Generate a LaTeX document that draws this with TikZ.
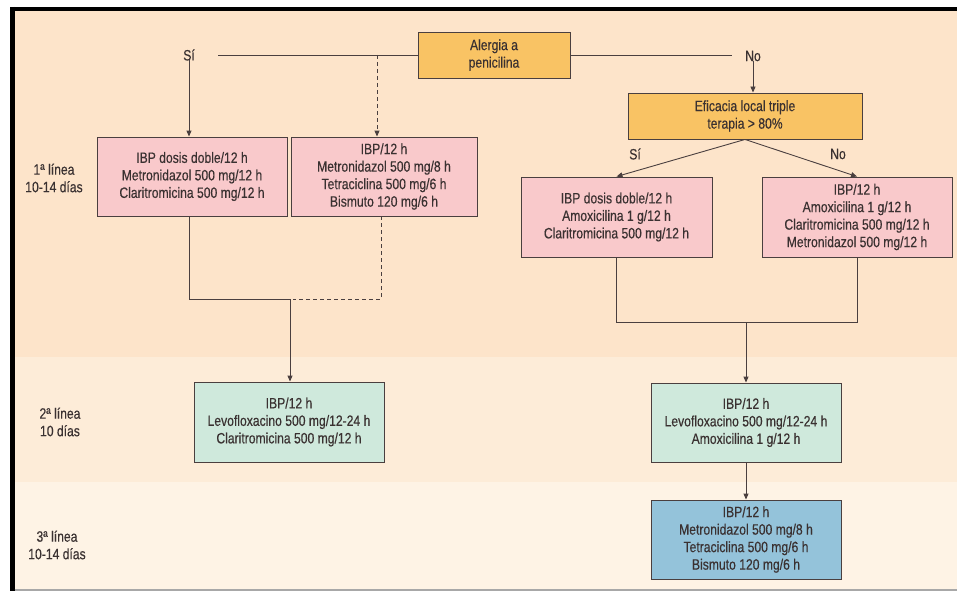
\documentclass[tikz,border=0pt]{standalone}
\usepackage{fontspec}
\setmainfont{Liberation Sans}[FakeStretch=0.81, FakeBold=0.35]
\usetikzlibrary{arrows.meta}
\definecolor{bandA}{HTML}{FDE4CA}
\definecolor{bandB}{HTML}{FDECD8}
\definecolor{bandC}{HTML}{FEF3E5}
\definecolor{orangebox}{HTML}{F9C364}
\definecolor{pinkbox}{HTML}{F9C9CB}
\definecolor{greenbox}{HTML}{CFE9DC}
\definecolor{bluebox}{HTML}{94C3DA}
\definecolor{edgecol}{HTML}{4A3F3F}
\definecolor{txtcol}{HTML}{3A3131}
\definecolor{framegray}{HTML}{A8A8A8}
\tikzset{
  boxbase/.style={draw=edgecol, line width=0.9pt, align=center, inner sep=2pt,
    text=txtcol, font=\fontsize{15}{17.5}\selectfont},
  obox/.style={boxbase, fill=orangebox},
  pbox/.style={boxbase, fill=pinkbox, minimum width=190pt, minimum height=79pt},
  gbox/.style={boxbase, fill=greenbox, minimum width=190pt, minimum height=79pt},
  bbox/.style={boxbase, fill=bluebox, minimum width=190pt, minimum height=79pt},
  lbl/.style={text=txtcol, align=center, inner sep=1pt, font=\fontsize{15}{17.5}\selectfont},
  conn/.style={draw=edgecol, line width=0.9pt},
  arr/.style={conn, -{Triangle[width=5pt,length=6pt]}},
  dashconn/.style={conn, dash pattern=on 4pt off 3pt}
}
\begin{document}
\begin{tikzpicture}[x=1pt, y=-1pt]
\useasboundingbox (0,0) rectangle (957,591);
% background
\fill[white] (0,0) rectangle (957,591);
\fill[bandA] (12,9) rectangle (957,357);
\fill[bandB] (12,357) rectangle (957,482);
\fill[bandC] (12,482) rectangle (957,589);
\draw[black, line width=4pt] (10,9) -- (957,9);
\draw[black, line width=4.5pt] (12.25,7) -- (12.25,591);
\draw[framegray, line width=2.5pt] (14.5,589.75) -- (957,589.75);

% nodes
\node[obox, minimum width=152pt, minimum height=46pt] (aler) at (494,55) {Alergia a\\penicilina};
\node[lbl] (si1) at (189,55) {Sí};
\node[lbl] (no1) at (753,56) {No};
\coordinate (siend) at (218,55);
\coordinate (noend) at (732,55);
\coordinate (dtop) at (377,55);

\node[pbox] (b1) at (192,176.5) {IBP dosis doble/12 h\\Metronidazol 500 mg/12 h\\Claritromicina 500 mg/12 h};
\node[pbox, minimum width=186pt] (b2) at (384,176.5) {IBP/12 h\\Metronidazol 500 mg/8 h\\Tetraciclina 500 mg/6 h\\Bismuto 120 mg/6 h};

\node[obox, minimum width=234pt, minimum height=46pt] (efi) at (745,116) {Eficacia local triple\\terapia > 80\%};
\node[lbl] (si2) at (635,154) {Sí};
\node[lbl] (no2) at (838,154) {No};

\node[pbox, minimum width=191pt, minimum height=80pt] (b3) at (616.5,217) {IBP dosis doble/12 h\\Amoxicilina 1 g/12 h\\Claritromicina 500 mg/12 h};
\node[pbox, minimum height=80pt] (b4) at (857,217) {IBP/12 h\\Amoxicilina 1 g/12 h\\Claritromicina 500 mg/12 h\\Metronidazol 500 mg/12 h};

\node[gbox, minimum height=80pt] (b7) at (289,422) {IBP/12 h\\Levofloxacino 500 mg/12-24 h\\Claritromicina 500 mg/12 h};
\node[gbox] (b5) at (746,422.5) {IBP/12 h\\Levofloxacino 500 mg/12-24 h\\Amoxicilina 1 g/12 h};
\node[bbox] (b6) at (746,539.5) {IBP/12 h\\Metronidazol 500 mg/8 h\\Tetraciclina 500 mg/6 h\\Bismuto 120 mg/6 h};

\coordinate (jL) at (290,299);
\coordinate (jR) at (746,322);

% row labels
\node[lbl] (r1) at (54,178) {1ª línea\\10-14 días};
\node[lbl] (r2) at (60,422) {2ª línea\\10 días};
\node[lbl] (r3) at (57,545) {3ª línea\\10-14 días};

% connectors
\draw[conn] (aler.west) -- (siend);
\draw[conn] (aler.east) -- (noend);
\draw[arr] ([yshift=2pt]si1.south) -- (b1.north -| si1.south);
\draw[arr, dash pattern=on 4pt off 3pt] (dtop) -- (b2.north -| dtop);
\draw[arr] ([yshift=1pt]no1.south) -- (efi.north -| no1.south);
\draw[arr] (efi.south) -- (b3.north);
\draw[arr] (efi.south) -- (b4.north);
\draw[conn] ([xshift=-3pt]b1.south) |- (jL);
\draw[dashconn] ([xshift=-3pt]b2.south) |- ([xshift=3pt]jL);
\draw[arr] (jL) -- (jL |- b7.north);
\draw[conn] (b3.south) |- (jR);
\draw[conn] (b4.south) |- (jR);
\draw[arr] (jR) -- (b5.north);
\draw[arr] (b5.south) -- (b6.north);
\end{tikzpicture}
\end{document}
